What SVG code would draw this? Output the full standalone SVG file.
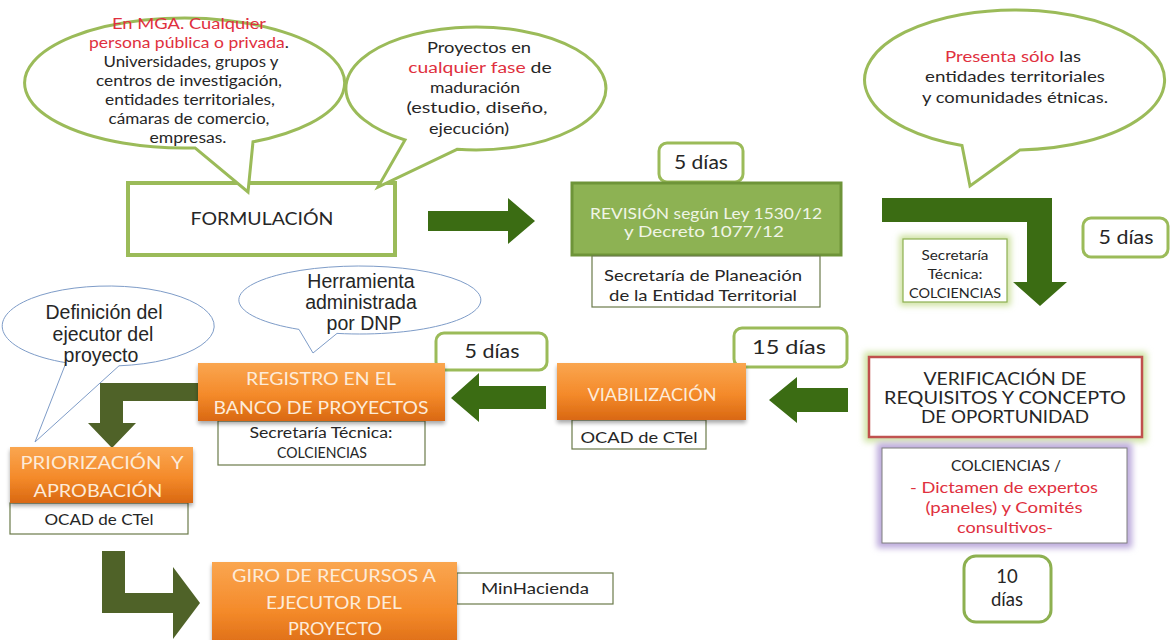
<svg xmlns="http://www.w3.org/2000/svg" width="1174" height="640" viewBox="0 0 1174 640">
<defs>
<linearGradient id="org" x1="0" y1="0" x2="0" y2="1">
<stop offset="0" stop-color="#FAA650"/>
<stop offset="0.55" stop-color="#F48A2A"/>
<stop offset="1" stop-color="#D96812"/>
</linearGradient>
<filter id="shadow" x="-10%" y="-20%" width="120%" height="160%">
<feGaussianBlur in="SourceAlpha" stdDeviation="2"/>
<feOffset dy="2.5"/>
<feComponentTransfer><feFuncA type="linear" slope="0.35"/></feComponentTransfer>
<feMerge><feMergeNode/><feMergeNode in="SourceGraphic"/></feMerge>
</filter>
<filter id="blur" x="-20%" y="-30%" width="140%" height="160%"><feGaussianBlur stdDeviation="3"/></filter>
</defs>
<style>
text{font-family:Lato,"Open Sans",sans-serif;fill:#262626;text-anchor:middle}
.b{font-size:15.5px}
.red{fill:#E0303E}
.sx{transform-box:fill-box;transform-origin:center}
.gbub{fill:#fff;stroke:#9BBB59;stroke-width:3}
.bbub{fill:#fff;stroke:#7E9CC8;stroke-width:1}
.day{fill:#fff;stroke:#9BBB59;stroke-width:3}
.dt{font-size:18.5px}
.org{fill:url(#org);filter:url(#shadow)}
.ot{fill:#FDEBD9;font-size:18px}
.thin{fill:#fff;stroke:#6B7B4A;stroke-width:1.2}
.arr{fill:#3B6C13}
.ol{fill:#4F6228}
.arial{font-family:"Liberation Sans",Arial,sans-serif;font-size:19.5px}
.pre{white-space:pre}
</style>

<g id="connectors">
<polygon class="arr" points="428,211 508,211 508,198 535,221 508,244 508,231 428,231"/>
<polygon class="arr" points="882,198 1052,198 1052,282 1067,282 1040,306 1013,282 1027,282 1027,222 882,222"/>
<polygon class="arr" points="848,388 797,388 797,377 769,400 797,423 797,412 848,412"/>
<polygon class="arr" points="546,386 479,386 479,373 451,398 479,422 479,409 546,409"/>
<polygon class="ol" points="200,383 200,401 123,401 123,423 136,423 112,448 88,423 100,423 100,383"/>
<polygon class="ol" points="102,551 125,551 125,593 173,593 173,567 200,603 173,639 173,613 102,613"/>
</g>

<g id="formulacion">
<rect x="128" y="183" width="267" height="72" fill="#fff" stroke="#9BBB59" stroke-width="4"/>
<text x="262" y="224.5" style="font-size:18px" textLength="143" lengthAdjust="spacingAndGlyphs">FORMULACIÓN</text>
</g>

<g id="bubble-mga">
<path class="gbub" d="M 195 147.9 L 248 192 L 253 141.8 A 160 65 0 1 0 195 147.9 Z"/>
<text class="b red" x="189" y="29" textLength="154" lengthAdjust="spacingAndGlyphs">En MGA. Cualquier</text>
<text class="b sx" x="189" y="48" style="transform:scaleX(1.13)"><tspan class="red">persona pública o privada</tspan>.</text>
<text class="b" x="191" y="67" textLength="175" lengthAdjust="spacingAndGlyphs">Universidades, grupos y</text>
<text class="b" x="189" y="86" textLength="186" lengthAdjust="spacingAndGlyphs">centros de investigación,</text>
<text class="b" x="190" y="105" textLength="170" lengthAdjust="spacingAndGlyphs">entidades territoriales,</text>
<text class="b" x="189" y="124" textLength="161" lengthAdjust="spacingAndGlyphs">cámaras de comercio,</text>
<text class="b" x="188" y="143" textLength="77" lengthAdjust="spacingAndGlyphs">empresas.</text>
</g>

<g id="bubble-fase">
<path class="gbub" d="M 457 149.3 L 378 187 L 405 140 A 130 61.5 0 1 1 457 149.3 Z"/>
<text class="b" x="479" y="53" textLength="104" lengthAdjust="spacingAndGlyphs">Proyectos en</text>
<text class="b sx" x="480" y="73" style="transform:scaleX(1.25)"><tspan class="red">cualquier fase</tspan> de</text>
<text class="b" x="475" y="93" textLength="90" lengthAdjust="spacingAndGlyphs">maduración</text>
<text class="b" x="477" y="113" textLength="141" lengthAdjust="spacingAndGlyphs">(estudio, diseño,</text>
<text class="b" x="469" y="134" textLength="80" lengthAdjust="spacingAndGlyphs">ejecución)</text>
</g>

<g id="bubble-presenta">
<path class="gbub" d="M 1020 149.9 L 970 186 L 962 145.5 A 150 70 0 1 1 1020 149.9 Z"/>
<text class="b sx" x="1013" y="62" style="transform:scaleX(1.2)"><tspan class="red">Presenta sólo</tspan> las</text>
<text class="b" x="1015" y="82" textLength="180" lengthAdjust="spacingAndGlyphs">entidades territoriales</text>
<text class="b" x="1015" y="103" textLength="186" lengthAdjust="spacingAndGlyphs">y comunidades étnicas.</text>
</g>

<g id="dias-revision">
<rect class="day" x="659" y="143" width="84" height="39" rx="8"/>
<text class="dt" x="701" y="169" textLength="54" lengthAdjust="spacingAndGlyphs">5 días</text>
</g>

<g id="revision">
<rect x="572" y="183" width="269" height="72" fill="#8DB253" stroke="#6E9439" stroke-width="3"/>
<text x="706" y="219" style="font-size:16px;fill:#F0F5E6" textLength="232" lengthAdjust="spacingAndGlyphs">REVISIÓN según Ley 1530/12</text>
<text x="704" y="237" style="font-size:16px;fill:#F0F5E6" textLength="160" lengthAdjust="spacingAndGlyphs">y Decreto 1077/12</text>
</g>

<g id="secretaria-planeacion">
<rect class="thin" x="592" y="256" width="228" height="51"/>
<text x="703" y="281" style="font-size:16px" textLength="198" lengthAdjust="spacingAndGlyphs">Secretaría de Planeación</text>
<text x="703" y="301" style="font-size:16px" textLength="188" lengthAdjust="spacingAndGlyphs">de la Entidad Territorial</text>
</g>

<g id="secretaria-tecnica-1">
<rect x="903" y="239" width="104" height="63" fill="none" stroke="#C9DF98" stroke-width="7" filter="url(#blur)"/>
<rect x="903" y="239" width="104" height="63" fill="#fff" stroke="#8DB050" stroke-width="1.2"/>
<text x="955" y="259.5" style="font-size:13px" textLength="67" lengthAdjust="spacingAndGlyphs">Secretaría</text>
<text x="955" y="278.5" style="font-size:13px" textLength="55" lengthAdjust="spacingAndGlyphs">Técnica:</text>
<text x="955" y="297.5" style="font-size:13px" textLength="92" lengthAdjust="spacingAndGlyphs">COLCIENCIAS</text>
</g>

<g id="dias-st">
<rect class="day" x="1083" y="218" width="85" height="39" rx="8"/>
<text class="dt" x="1126" y="244" textLength="55" lengthAdjust="spacingAndGlyphs">5 días</text>
</g>

<g id="verificacion">
<rect x="869" y="357" width="273" height="80" fill="none" stroke="#CFE3A4" stroke-width="10" filter="url(#blur)"/>
<rect x="869" y="357" width="273" height="80" fill="#fff" stroke="#C0504D" stroke-width="2.5"/>
<text x="1005" y="385" style="font-size:17.5px" textLength="163" lengthAdjust="spacingAndGlyphs">VERIFICACIÓN DE</text>
<text x="1005" y="404" style="font-size:17.5px" textLength="242" lengthAdjust="spacingAndGlyphs">REQUISITOS Y CONCEPTO</text>
<text x="1005" y="423" style="font-size:17.5px" textLength="168" lengthAdjust="spacingAndGlyphs">DE OPORTUNIDAD</text>
</g>

<g id="colciencias">
<rect x="882" y="448" width="245" height="95" fill="none" stroke="#BBA9DB" stroke-width="10" filter="url(#blur)"/>
<rect x="882" y="448" width="245" height="95" fill="#fff" stroke="#7F7F7F" stroke-width="1"/>
<text x="1006" y="470.5" style="font-size:16px" textLength="110" lengthAdjust="spacingAndGlyphs">COLCIENCIAS /</text>
<text class="red" x="1004" y="492.5" style="font-size:16px" textLength="188" lengthAdjust="spacingAndGlyphs">- Dictamen de expertos</text>
<text class="red" x="1004" y="512.5" style="font-size:16px" textLength="157" lengthAdjust="spacingAndGlyphs">(paneles) y Comités</text>
<text class="red" x="1005" y="532.5" style="font-size:16px" textLength="96" lengthAdjust="spacingAndGlyphs">consultivos-</text>
</g>

<g id="dias-verificacion">
<rect x="964" y="556" width="87" height="66" rx="12" fill="#fff" stroke="#8DB050" stroke-width="3"/>
<text class="dt" x="1007" y="583">10</text>
<text class="dt" x="1007" y="606">días</text>
</g>

<g id="dias-viabilizacion">
<rect class="day" x="734" y="328" width="113" height="39" rx="8"/>
<text class="dt" x="789" y="354" textLength="74" lengthAdjust="spacingAndGlyphs">15 días</text>
</g>

<g id="viabilizacion">
<rect class="thin" x="572" y="420" width="134" height="29"/>
<text x="639" y="442.5" style="font-size:15.5px" textLength="117" lengthAdjust="spacingAndGlyphs">OCAD de CTel</text>
<rect class="org" x="557" y="363" width="189" height="57"/>
<text class="ot" x="652" y="400.5" style="font-size:17.5px" textLength="129" lengthAdjust="spacingAndGlyphs">VIABILIZACIÓN</text>
</g>

<g id="dias-registro">
<rect class="day" x="436" y="333" width="111" height="37" rx="8"/>
<text class="dt" x="492" y="358" textLength="55" lengthAdjust="spacingAndGlyphs">5 días</text>
</g>

<g id="registro">
<rect class="thin" x="218" y="421" width="207" height="44"/>
<text x="321" y="437.5" style="font-size:15.5px" textLength="143" lengthAdjust="spacingAndGlyphs">Secretaría Técnica:</text>
<text x="322" y="457.5" style="font-size:14.5px" textLength="90" lengthAdjust="spacingAndGlyphs">COLCIENCIAS</text>
<rect class="org" x="198" y="363" width="247" height="58"/>
<text class="ot" x="321" y="384.5" textLength="150" lengthAdjust="spacingAndGlyphs">REGISTRO EN EL</text>
<text class="ot" x="321" y="413.5" textLength="215" lengthAdjust="spacingAndGlyphs">BANCO DE PROYECTOS</text>
</g>

<g id="priorizacion">
<rect class="thin" x="10" y="503" width="178" height="31"/>
<text x="99" y="524.5" style="font-size:15.5px" textLength="109" lengthAdjust="spacingAndGlyphs">OCAD de CTel</text>
<rect class="org" x="10" y="447" width="183" height="56"/>
<text class="ot pre" x="102" y="468.5" textLength="163" lengthAdjust="spacingAndGlyphs">PRIORIZACIÓN  Y</text>
<text class="ot" x="98" y="496.5" textLength="129" lengthAdjust="spacingAndGlyphs">APROBACIÓN</text>
</g>

<g id="giro">
<rect class="thin" x="457" y="573" width="156" height="31"/>
<text x="481" y="593.5" style="font-size:15px;text-anchor:start" textLength="108" lengthAdjust="spacingAndGlyphs">MinHacienda</text>
<rect class="org" x="212" y="562" width="245" height="90"/>
<text class="ot" x="334" y="581.5" textLength="204" lengthAdjust="spacingAndGlyphs">GIRO DE RECURSOS A</text>
<text class="ot" x="334" y="608.5" textLength="136" lengthAdjust="spacingAndGlyphs">EJECUTOR DEL</text>
<text class="ot" x="335" y="634.5" textLength="94" lengthAdjust="spacingAndGlyphs">PROYECTO</text>
</g>

<g id="bubble-ejecutor">
<path class="bbub" d="M 119 365.8 L 35 442 L 66 362.7 A 106 40 0 1 1 119 365.8 Z"/>
<text class="arial" x="104" y="319">Definición del</text>
<text class="arial" x="103" y="341">ejecutor del</text>
<text class="arial" x="101" y="362">proyecto</text>
</g>

<g id="bubble-dnp">
<path class="bbub" d="M 337 333.4 L 313 353 L 299 329.4 A 121 34 0 1 1 337 333.4 Z"/>
<text class="arial" x="361" y="288">Herramienta</text>
<text class="arial" x="361" y="309">administrada</text>
<text class="arial" x="364" y="330">por DNP</text>
</g>
</svg>
